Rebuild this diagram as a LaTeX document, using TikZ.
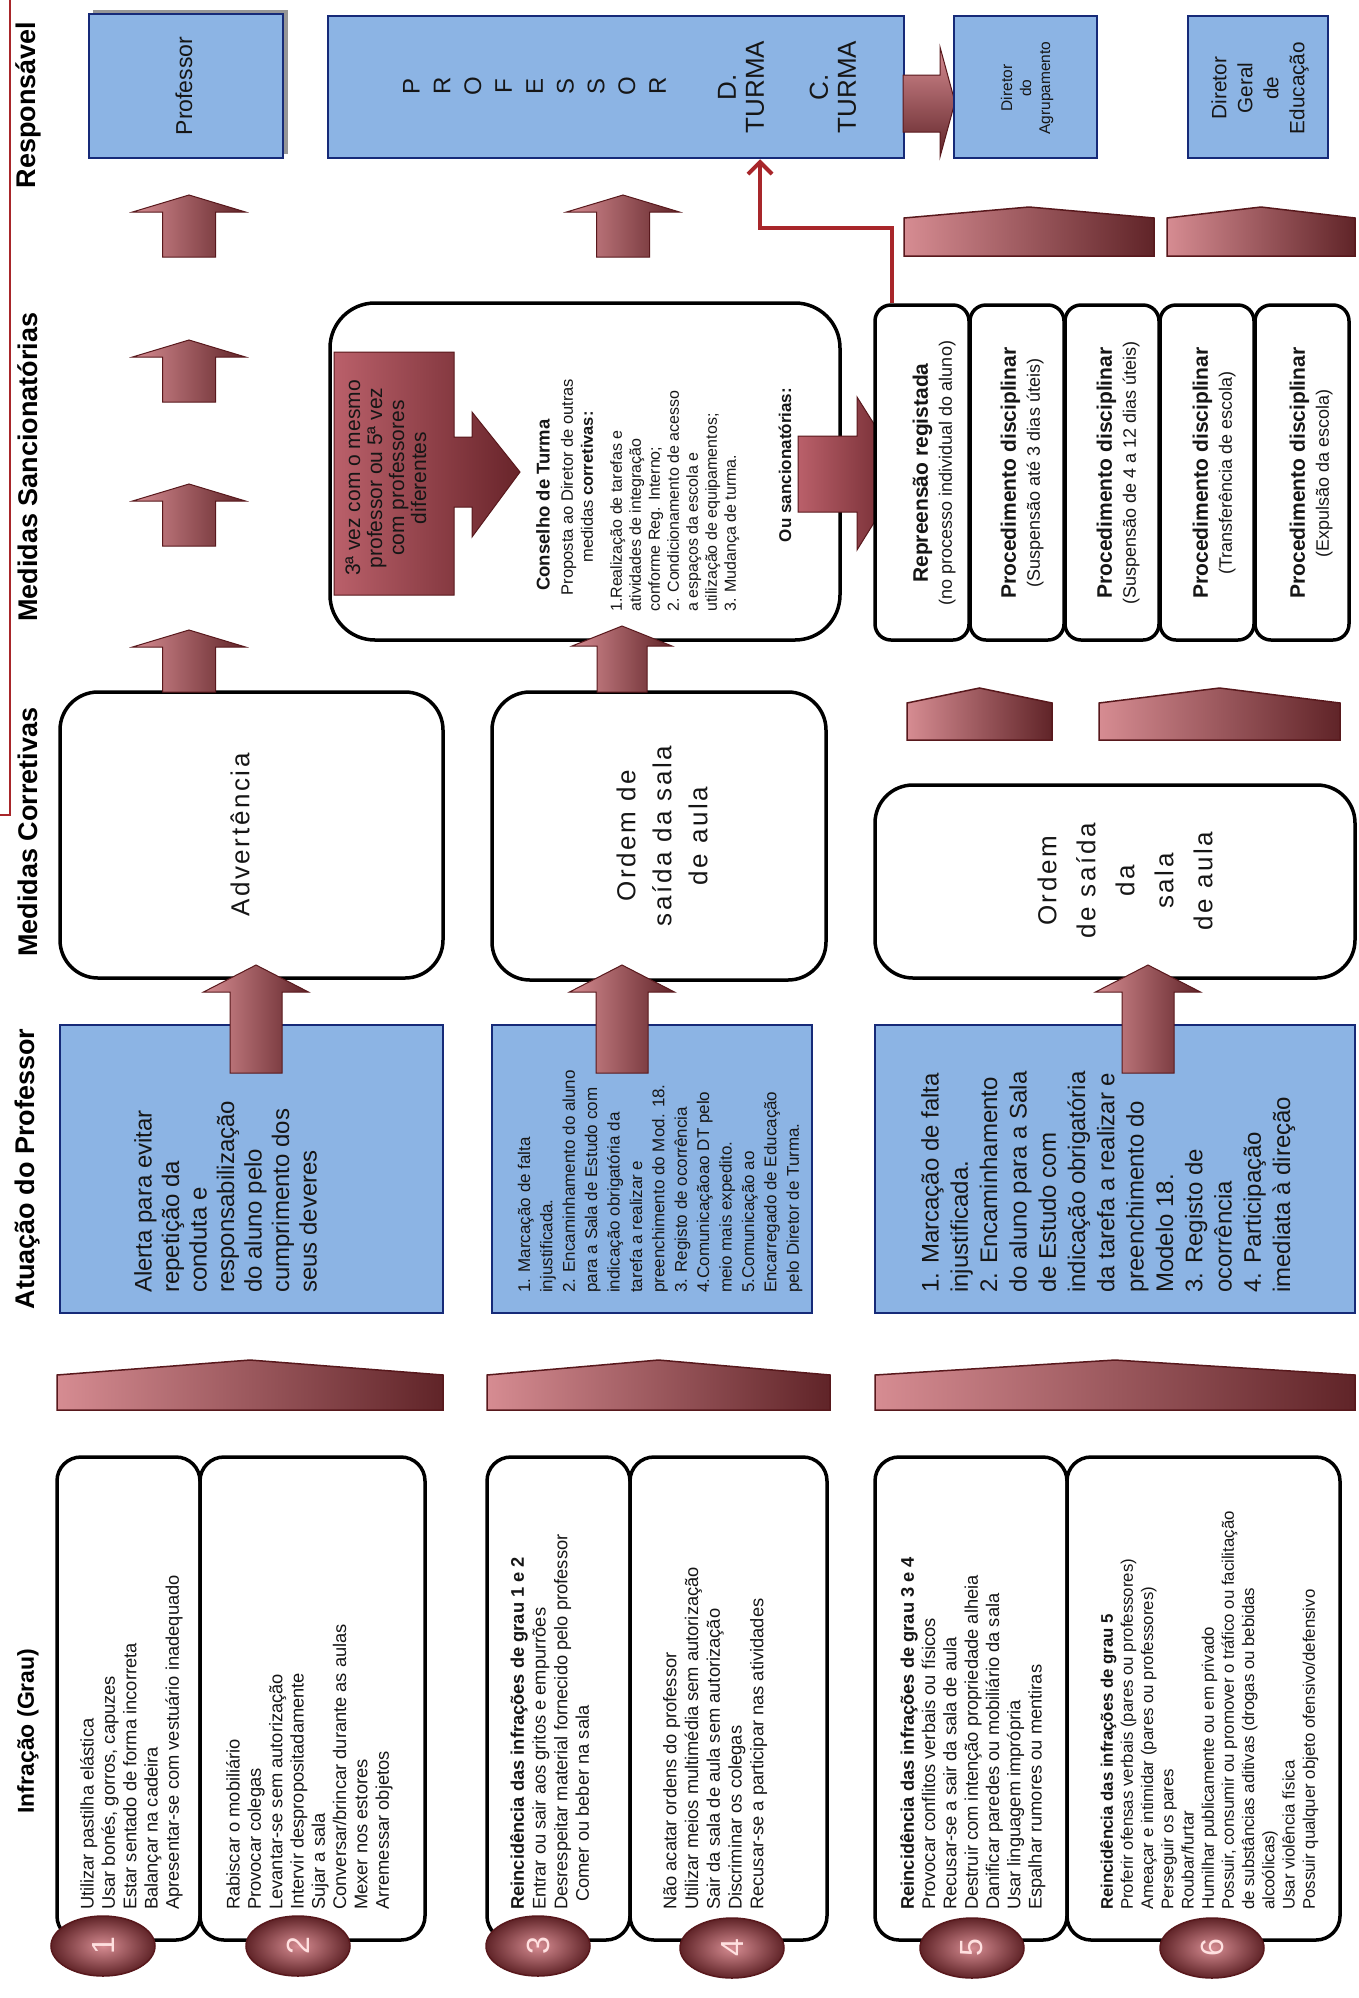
\documentclass[tikz,border=0pt]{standalone}
\usepackage{fontspec}
\setmainfont{Liberation Sans}
\newfontfamily\spacedfont[LetterSpace=10]{Liberation Sans}
\usetikzlibrary{arrows.meta,shapes.geometric}

\definecolor{bluefill}{RGB}{140,180,228}
\definecolor{blueline}{RGB}{22,42,120}
\definecolor{marlight}{RGB}{214,140,146}
\definecolor{mardark}{RGB}{96,36,40}
\definecolor{marline}{RGB}{88,24,28}
\definecolor{redline}{RGB}{168,38,42}
\definecolor{callA}{RGB}{186,96,106}
\definecolor{callB}{RGB}{104,36,42}
\definecolor{txt}{RGB}{22,22,22}
\definecolor{shadowgray}{RGB}{150,150,150}

\newcommand{\fsz}[2]{\fontsize{#1}{#2}\selectfont}
\newcommand{\uparr}[6]{%
  \draw[arrowshade] ({#1-#4/2},#3) -- ({#1-#4/2},{#2+#6}) -- ({#1-#5/2},{#2+#6}) -- (#1,#2) -- ({#1+#5/2},{#2+#6}) -- ({#1+#4/2},{#2+#6}) -- ({#1+#4/2},#3) -- cycle;}
\newcommand{\chev}[5]{%
  \draw[chevshade] (#1,#5) -- (#1,#4) -- ({(#1+#2)/2},#3) -- (#2,#4) -- (#2,#5) -- cycle;}

\tikzset{
  arrowshade/.style={draw=marline, line width=1pt, left color=marlight, right color=mardark},
  chevshade/.style={draw=marline, line width=1.5pt, left color=marlight, right color=mardark},
  infbox/.style={draw=black, line width=3.5pt, fill=white, rounded corners=24pt},
  corbox/.style={draw=black, line width=3.5pt, fill=white, rounded corners=38pt},
  sanbox/.style={draw=black, line width=3.5pt, fill=white, rounded corners=16pt},
  bluebox/.style={draw=blueline, line width=2.5pt, fill=bluefill},
  rtext/.style={rotate=90, inner sep=0pt, text=txt},
  grade/.style={ellipse, rotate=90, draw=marline, line width=1.5pt, inner color=marlight, outer color=mardark, minimum width=60pt, minimum height=104pt, inner sep=0pt, text=white!88!red, font=\fsz{32}{32}},
  header/.style={rtext, text=black},
  redconn/.style={draw=redline, line width=4pt, -{Straight Barb[length=12pt,width=24pt]}},
}

\begin{document}
\begin{tikzpicture}[x=1pt,y=-1pt]
\useasboundingbox (0,0) rectangle (1359,1998);
\fill[white] (0,0) rectangle (1359,1998);

% headers
\node[header, font=\fsz{23}{28}\bfseries] (hinf) at (28,1731) {Infração (Grau)};
\node[header, font=\fsz{27}{30}\bfseries] (hatu) at (28,1169) {Atuação do Professor};
\node[header, font=\fsz{27}{30}\bfseries] (hcor) at (28,832) {Medidas Corretivas};
\node[header, font=\fsz{27}{30}\bfseries] (hsan) at (28,467) {Medidas Sancionatórias};
\node[header, font=\fsz{27}{30}\bfseries] (hres) at (28,105) {Responsável};
\draw[redline, line width=2.5pt] (0,815) -- (10,815) -- (10,0);

% chevron bars
\chev{57}{443}{1360}{1375}{1410}
\chev{487}{830}{1360}{1375}{1410}
\chev{875}{1355}{1360}{1375}{1410}

% infraction boxes
\node[infbox, minimum width=143pt, minimum height=483pt] (box1) at (128.5,1698.5) {};
\node[infbox, minimum width=225pt, minimum height=483pt] (box2) at (312.5,1698.5) {};
\node[infbox, minimum width=143pt, minimum height=483pt] (box3) at (558.5,1698.5) {};
\node[infbox, minimum width=197pt, minimum height=483pt] (box4) at (728.5,1698.5) {};
\node[infbox, minimum width=192pt, minimum height=483pt] (box5) at (971,1698.5) {};
\node[infbox, minimum width=273pt, minimum height=483pt] (box6) at (1203.5,1698.5) {};

\node[rtext, anchor=north west, align=left, font=\fsz{18.3}{21.3}] (t1) at (80,1910) {Utilizar pastilha elástica\\Usar bonés, gorros, capuzes\\Estar sentado de forma incorreta\\Balançar na cadeira\\Apresentar-se com vestuário inadequado};
\node[rtext, anchor=north west, align=left, font=\fsz{18.3}{21.3}] (t2) at (226,1910) {Rabiscar o mobiliário\\Provocar colegas\\Levantar-se sem autorização\\Intervir despropositadamente\\Sujar a sala\\Conversar/brincar durante as aulas\\Mexer nos estores\\Arremessar objetos};
\node[rtext, anchor=north west, align=left, font=\fsz{18.3}{21.7}] (t3) at (510,1910) {\textbf{Reincidência das infrações de grau 1 e 2}\\Entrar ou sair aos gritos e empurrões\\Desrespeitar material fornecido pelo professor\\\hspace*{8pt}Comer ou beber na sala};
\node[rtext, anchor=north west, align=left, font=\fsz{18.3}{21.7}] (t4) at (663,1910) {Não acatar ordens do professor\\Utilizar meios multimédia sem autorização\\Sair da sala de aula sem autorização\\Discriminar os colegas\\Recusar-se a participar nas atividades};
\node[rtext, anchor=north west, align=left, font=\fsz{18.3}{21.3}] (t5) at (900,1910) {\textbf{Reincidência das infrações de grau 3 e 4}\\Provocar conflitos verbais ou físicos\\Recusar-se a sair da sala de aula\\Destruir com intenção propriedade alheia\\Danificar paredes ou mobiliário da sala\\Usar linguagem imprópria\\Espalhar rumores ou mentiras};
\node[rtext, anchor=north west, align=left, font=\fsz{16.8}{20.2}] (t6) at (1100,1910) {\textbf{Reincidência das infrações de grau 5}\\Proferir ofensas verbais (pares ou professores)\\Ameaçar e intimidar (pares ou professores)\\Perseguir os pares\\Roubar/furtar\\Humilhar publicamente ou em privado\\Possuir, consumir ou promover o tráfico ou facilitação\\de substâncias aditivas (drogas ou bebidas\\alcoólicas)\\Usar violência física\\Possuir qualquer objeto ofensivo/defensivo};

\node[grade] (g1) at (103,1946) {1};
\node[grade] (g2) at (298,1946) {2};
\node[grade] (g3) at (538,1946) {3};
\node[grade] (g4) at (732,1948) {4};
\node[grade] (g5) at (972,1948) {5};
\node[grade] (g6) at (1212,1948) {6};

% atuação (blue boxes)
\node[bluebox, minimum width=383pt, minimum height=288pt] (blA) at (251.5,1169) {};
\node[bluebox, minimum width=320pt, minimum height=288pt] (blB) at (652,1169) {};
\node[bluebox, minimum width=480pt, minimum height=288pt] (blC) at (1115,1169) {};

% medidas corretivas
\node[corbox, minimum width=383pt, minimum height=286pt] (adv) at (251.5,835) {};
\node[corbox, minimum width=334pt, minimum height=288pt] (ordB) at (659,836) {};
\node[corbox, minimum width=480pt, minimum height=193pt] (ordC) at (1115,881.5) {};

\uparr{256}{965}{1073}{52}{105}{27}
\uparr{622}{965}{1073}{52}{105}{27}
\uparr{1148}{965}{1073}{52}{105}{27}

\node[rtext, anchor=north west, align=left, font=\fsz{24}{27.5}] (ta) at (134,1293) {Alerta para evitar\\repetição da\\conduta e\\responsabilização\\do aluno pelo\\cumprimento dos\\seus deveres};
\node[rtext, anchor=north west, align=left, font=\fsz{17}{22.4}] (tb) at (517.5,1293) {1. Marcação de falta\\injustificada.\\2. Encaminhamento do aluno\\para a Sala de Estudo com\\indicação obrigatória da\\tarefa a realizar e\\preenchimento do Mod. 18.\\3. Registo de ocorrência\\4.Comunicaçãoao DT pelo\\meio mais expedito.\\5.Comunicação ao\\Encarregado de Educação\\pelo Diretor de Turma.};
\node[rtext, anchor=north west, align=left, font=\fsz{24}{29.3}] (tc) at (921,1293) {1. Marcação de falta\\injustificada.\\2. Encaminhamento\\do aluno para a Sala\\de Estudo com\\indicação obrigatória\\da tarefa a realizar e\\preenchimento do\\Modelo 18.\\3. Registo de\\ocorrência\\4. Participação\\imediata à direção};

\node[rtext, font=\spacedfont\fsz{26}{34}] (tadv) at (240,835) {Advertência};
\node[rtext, align=center, font=\spacedfont\fsz{26}{36}] (tordB) at (662,836) {Ordem de\\saída da sala\\de aula};
\node[rtext, align=center, font=\spacedfont\fsz{26}{39}] (tordC) at (1125,881) {Ordem\\de saída\\da\\sala\\de aula};

% conselho de turma
\node[corbox, rounded corners=45pt, minimum width=510pt, minimum height=337pt] (cons) at (585,471.5) {};
\draw[draw=marline, line width=1pt, left color=callA, right color=callB] (334,352) -- (454,352) -- (454,437) -- (472,437) -- (472,412) -- (520,472) -- (472,537) -- (472,507) -- (454,507) -- (454,595) -- (334,595) -- cycle;
\node[rtext, align=center, font=\fsz{21}{22}] (tcall) at (386,478) {3ª vez com o mesmo\\professor ou 5ª vez\\com professores\\diferentes};
\node[rtext, font=\fsz{18.5}{22}\bfseries] (tct) at (543,505) {Conselho de Turma};
\node[rtext, align=center, font=\fsz{16.5}{20}] (tprop) at (577,487) {Proposta ao Diretor de outras\\medidas \textbf{corretivas:}};
\node[rtext, anchor=north west, align=left, font=\fsz{16}{19}] (tlist) at (610,612) {1.Realização de tarefas e\\atividades de integração\\conforme Reg. Interno;\\2. Condicionamento de acesso\\a espaços da escola e\\utilização de equipamentos;\\3. Mudança de turma.};
\node[rtext, font=\fsz{17}{21}\bfseries] (tou) at (785,465) {Ou sancionatórias:};
\draw[draw=marline, line width=1pt, left color=callA, right color=callB] (798,436) -- (857,436) -- (857,397) -- (905,473) -- (857,550) -- (857,512) -- (798,512) -- cycle;

% medidas sancionatorias
\node[sanbox, minimum width=94pt, minimum height=335pt] (s1) at (922,472.5) {};
\node[sanbox, minimum width=94pt, minimum height=335pt] (s2) at (1017,472.5) {};
\node[sanbox, minimum width=94pt, minimum height=335pt] (s3) at (1112,472.5) {};
\node[sanbox, minimum width=94pt, minimum height=335pt] (s4) at (1207,472.5) {};
\node[sanbox, minimum width=94pt, minimum height=335pt] (s5) at (1302,472.5) {};
\node[rtext, align=center, font=\fsz{18}{24}] (ts1) at (934,473) {\fsz{21}{24}\textbf{Repreensão registada}\\(no processo individual do aluno)};
\node[rtext, align=center, font=\fsz{18}{24}] (ts2) at (1022,473) {\fsz{21}{24}\textbf{Procedimento disciplinar}\\(Suspensão até 3 dias úteis)};
\node[rtext, align=center, font=\fsz{18}{24}] (ts3) at (1118,473) {\fsz{21}{24}\textbf{Procedimento disciplinar}\\(Suspensão de 4 a 12 dias úteis)};
\node[rtext, align=center, font=\fsz{18}{24}] (ts4) at (1214,473) {\fsz{21}{24}\textbf{Procedimento disciplinar}\\(Transferência de escola)};
\node[rtext, align=center, font=\fsz{18}{24}] (ts5) at (1311,473) {\fsz{21}{24}\textbf{Procedimento disciplinar}\\(Expulsão da escola)};

% chevrons
\chev{907}{1052}{688}{703}{740}
\chev{1099}{1340}{688}{703}{740}
\chev{904}{1154}{207}{218}{256}
\chev{1167}{1355}{207}{218}{256}

% up arrows
\uparr{189}{195}{257}{53}{113}{17}
\uparr{189}{340}{402}{53}{113}{17}
\uparr{189}{484}{546}{53}{113}{17}
\uparr{189}{630}{692}{53}{113}{17}
\uparr{623}{195}{257}{53}{113}{17}
\uparr{622}{626}{692}{50}{100}{20}

% responsavel
\fill[shadowgray] (93,10) rectangle (288,154);
\node[bluebox, minimum width=194pt, minimum height=144pt] (rprof) at (186,86) {};
\node[rtext, font=\fsz{23}{26}] (tprof) at (184,86) {Professor};
\node[bluebox, minimum width=576pt, minimum height=142pt] (big) at (616,87) {};
\node[rtext, align=center, font=\fsz{24}{30.8}] (tbigP) at (534.5,86) {P\\R\\O\\F\\E\\S\\S\\O\\R};
\node[rtext, align=center, font=\fsz{26}{28}] (tbigD) at (741,87) {D.\\TURMA};
\node[rtext, align=center, font=\fsz{26}{28}] (tbigC) at (833,87) {C.\\TURMA};
\draw[draw=marline, line width=1pt, top color=marlight, bottom color=mardark] (903,75) -- (940,75) -- (940,47) -- (955,102) -- (940,157) -- (940,132) -- (903,132) -- cycle;
\node[bluebox, minimum width=143pt, minimum height=142pt] (dirag) at (1025.5,87) {};
\node[rtext, align=center, font=\fsz{15.5}{19}] (tdirag) at (1027,88) {Diretor\\do\\Agrupamento};
\node[bluebox, minimum width=140pt, minimum height=142pt] (dirge) at (1258,87) {};
\node[rtext, align=center, font=\fsz{20.7}{26}] (tdirge) at (1260,88) {Diretor\\Geral\\de\\Educação};

% red connector
\coordinate (rc1) at (892,228);
\coordinate (rc2) at (760,228);
\draw[redconn] (s1.north -| rc1) -- (rc1) -- (rc2) -- (big.south -| rc2);
\end{tikzpicture}
\end{document}
